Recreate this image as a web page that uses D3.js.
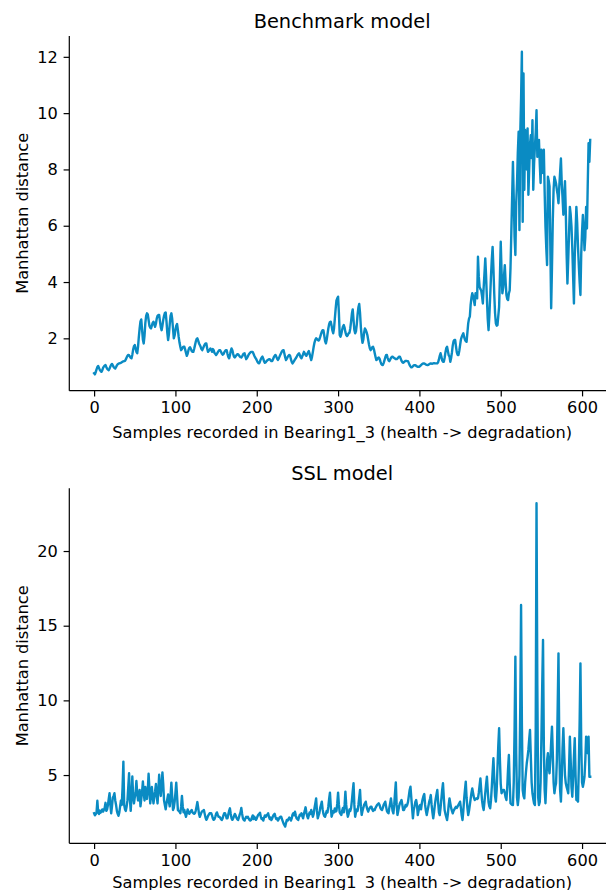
<!DOCTYPE html>
<html>
<head>
<meta charset="utf-8">
<script src="https://cdn.jsdelivr.net/npm/d3@7"></script>
<style>
  html, body { margin: 0; padding: 0; background: #fff; }
  svg { display: block; }
  text { font-family: "DejaVu Sans", sans-serif; fill: #000; }
</style>
</head>
<body>
<svg id="chart" width="606" height="890"></svg>
<script>
// ---------- data ----------
const titles = ["Benchmark model", "SSL model"];
const xLabel = "Samples recorded in Bearing1_3 (health -> degradation)";
const yLabel = "Manhattan distance";
const xTicks = [0, 100, 200, 300, 400, 500, 600];
const benchmarkYTicks = [2, 4, 6, 8, 10, 12];
const sslYTicks = [5, 10, 15, 20];

const benchmarkValues = [
0.76,0.72,0.80,0.90,0.98,1.02,0.95,0.88,0.84,0.81,
0.86,0.95,1.00,1.03,1.05,0.98,0.92,0.89,0.87,0.93,
1.00,1.06,1.09,1.04,0.98,0.95,0.93,0.98,1.04,1.08,
1.10,1.11,1.12,1.13,1.15,1.17,1.18,1.19,1.20,1.25,
1.32,1.38,1.41,1.40,1.35,1.31,1.29,1.42,1.60,1.72,
1.76,1.65,1.52,1.47,1.70,2.05,2.35,2.60,2.67,2.30,
1.95,1.82,2.10,2.55,2.80,2.89,2.85,2.65,2.45,2.38,
2.35,2.45,2.55,2.59,2.50,2.41,2.52,2.70,2.80,2.83,
2.83,2.60,2.40,2.29,2.45,2.65,2.80,2.90,2.92,2.60,
2.20,1.94,2.15,2.50,2.80,2.89,2.70,2.35,2.00,2.10,
2.30,2.45,2.51,2.30,2.05,1.85,1.70,1.58,1.62,1.68,
1.70,1.70,1.60,1.48,1.38,1.45,1.58,1.66,1.68,1.62,
1.55,1.52,1.52,1.62,1.75,1.88,1.97,2.00,1.92,1.82,
1.76,1.70,1.62,1.58,1.65,1.72,1.78,1.82,1.82,1.65,
1.52,1.55,1.60,1.64,1.60,1.52,1.62,1.58,1.48,1.45,
1.41,1.45,1.50,1.55,1.58,1.58,1.52,1.46,1.42,1.44,
1.50,1.55,1.58,1.58,1.45,1.34,1.29,1.40,1.55,1.64,
1.58,1.45,1.35,1.32,1.36,1.40,1.44,1.44,1.40,1.36,
1.33,1.32,1.36,1.42,1.46,1.47,1.36,1.26,1.30,1.36,
1.42,1.46,1.49,1.52,1.52,1.52,1.45,1.38,1.32,1.28,
1.22,1.16,1.12,1.11,1.18,1.26,1.32,1.35,1.28,1.18,
1.13,1.15,1.19,1.22,1.24,1.26,1.26,1.22,1.19,1.19,
1.26,1.33,1.38,1.41,1.35,1.28,1.23,1.28,1.35,1.42,
1.48,1.54,1.57,1.58,1.45,1.32,1.23,1.28,1.34,1.38,
1.41,1.38,1.26,1.16,1.11,1.15,1.20,1.25,1.29,1.34,
1.40,1.44,1.47,1.40,1.33,1.29,1.36,1.44,1.52,1.47,
1.41,1.38,1.44,1.50,1.55,1.45,1.32,1.23,1.35,1.52,
1.70,1.85,1.95,2.00,1.98,1.94,1.92,1.96,2.05,2.15,
2.24,2.29,2.28,2.10,1.90,1.82,1.95,2.15,2.35,2.50,
2.58,2.59,2.45,2.28,2.18,2.35,2.70,3.05,3.35,3.42,
3.48,2.90,2.12,2.06,2.15,2.30,2.42,2.47,2.38,2.22,
2.12,2.08,2.12,2.18,2.20,2.35,2.60,2.88,3.03,2.65,
2.30,2.18,2.25,2.50,2.85,3.10,3.22,2.90,2.40,2.05,
1.84,1.95,2.20,2.35,2.30,2.22,2.12,1.95,1.78,1.65,
1.58,1.62,1.68,1.70,1.62,1.48,1.35,1.23,1.25,1.30,
1.32,1.28,1.18,1.10,1.06,1.05,1.12,1.22,1.32,1.40,
1.41,1.30,1.22,1.19,1.24,1.30,1.34,1.35,1.32,1.30,
1.28,1.26,1.26,1.28,1.32,1.35,1.35,1.28,1.20,1.15,
1.13,1.15,1.18,1.20,1.20,1.19,1.19,1.12,1.05,1.00,
0.97,0.98,1.01,1.04,1.05,1.05,1.02,1.00,0.99,0.99,
0.99,1.02,1.05,1.08,1.10,1.11,1.11,1.09,1.07,1.06,
1.05,1.06,1.08,1.10,1.11,1.10,1.10,1.11,1.12,1.11,
1.11,1.11,1.11,1.15,1.25,1.38,1.47,1.35,1.22,1.17,
1.17,1.30,1.50,1.65,1.70,1.55,1.40,1.35,1.17,1.30,
1.50,1.75,1.90,1.94,1.94,1.70,1.50,1.41,1.41,1.55,
1.75,1.95,2.05,2.12,2.18,2.05,1.95,1.90,1.88,2.20,
2.53,2.70,2.77,3.20,3.45,3.60,3.50,3.35,3.18,3.60,
3.50,3.42,4.90,4.20,3.83,3.75,3.70,3.50,3.24,3.80,
4.31,4.84,4.20,3.40,2.70,2.29,2.80,3.48,4.20,4.80,
5.25,4.50,3.60,2.90,2.53,2.45,2.47,2.80,3.12,4.20,
5.43,4.40,3.60,3.80,4.20,4.60,4.00,3.54,3.40,3.36,
3.60,3.70,4.50,5.73,7.00,8.27,7.00,5.60,4.96,6.80,
7.50,8.60,9.34,5.85,9.28,10.50,12.18,6.14,11.41,7.28,
9.40,8.45,8.00,9.46,7.10,8.00,8.90,9.22,8.40,9.75,
7.28,8.20,8.80,9.30,10.10,8.45,8.70,9.05,8.20,7.52,
8.70,8.20,7.87,8.70,7.20,5.97,5.20,4.60,7.74,7.60,
7.40,5.20,3.07,4.50,6.20,7.30,7.74,7.63,7.50,7.28,
7.10,6.80,7.40,7.90,8.39,7.52,7.00,6.39,7.00,7.58,
6.50,5.00,3.95,4.80,5.73,6.67,6.40,5.97,5.20,4.20,
3.24,4.90,5.80,6.67,6.10,5.25,4.60,4.00,3.54,5.02,
5.80,6.38,5.90,5.13,5.60,6.67,5.90,7.50,8.93,8.27,
9.05
];

const sslValues = [
2.44,2.30,2.38,2.50,3.28,2.50,2.40,2.62,2.48,2.58,
2.70,2.55,2.66,2.80,3.14,2.60,2.70,3.00,3.40,3.78,
3.00,2.44,2.90,3.50,3.60,3.78,3.30,3.00,2.60,2.40,
2.27,2.50,2.90,3.30,3.00,4.20,5.90,3.00,2.70,2.60,
2.90,3.30,4.20,5.12,3.40,2.60,3.60,4.90,3.60,3.10,
3.50,3.80,4.60,3.80,3.30,3.60,4.00,2.90,3.40,3.90,
4.57,3.80,3.30,4.20,3.70,3.40,4.00,5.09,4.10,3.10,
3.60,4.20,3.60,3.10,3.50,3.90,4.40,3.60,3.10,4.00,
5.02,4.20,3.60,4.30,5.18,4.40,3.30,3.00,2.70,3.10,
3.40,3.70,3.20,2.90,3.60,4.49,3.60,2.66,2.80,3.20,
3.80,4.49,3.60,2.66,2.60,2.55,2.44,2.90,3.60,2.90,
2.50,2.66,2.40,2.20,2.45,2.70,2.55,2.40,2.50,2.58,
2.66,2.50,2.44,2.40,2.45,2.62,2.90,3.19,2.80,2.40,
2.20,2.35,2.50,2.58,2.62,2.66,2.40,2.15,2.00,2.10,
2.25,2.35,2.44,2.44,2.44,2.30,2.10,2.00,2.05,2.20,
2.40,2.50,2.35,2.21,2.21,2.15,2.05,1.99,2.10,2.30,
2.44,2.44,2.30,2.10,2.10,2.35,2.60,2.77,2.40,2.10,
2.00,2.10,2.25,2.40,2.30,2.15,2.05,1.99,2.15,2.35,
2.50,2.80,2.40,2.10,2.00,1.95,2.10,2.20,2.15,2.21,
2.10,2.00,1.95,1.99,2.15,2.30,2.05,2.21,2.10,2.00,
2.10,2.25,2.35,2.40,2.48,2.20,2.05,2.10,1.95,2.15,
2.30,2.20,2.30,2.35,2.44,2.20,2.05,2.15,1.99,2.10,
2.25,2.35,2.40,2.20,2.05,2.10,1.95,2.05,2.15,2.21,
2.21,2.05,1.90,1.75,1.65,1.55,1.80,2.00,1.95,2.05,
2.15,2.10,1.95,2.10,2.35,2.45,2.30,2.55,2.30,2.10,
2.05,1.99,2.20,2.35,2.30,2.44,2.25,2.10,2.40,2.60,
2.84,2.50,2.25,2.10,2.30,2.50,2.40,2.66,2.45,2.21,
2.40,2.80,3.10,3.44,2.60,2.10,2.30,2.45,2.80,3.00,
3.22,2.70,2.40,2.25,2.21,2.40,2.60,2.50,2.90,3.40,
3.82,2.90,2.21,2.40,2.60,2.50,2.77,2.55,2.60,3.10,
3.82,3.00,2.50,2.40,2.33,2.60,2.80,2.50,3.00,3.89,
3.00,2.50,2.21,2.40,2.70,2.60,2.80,3.30,3.90,4.45,
3.00,2.21,2.50,2.70,2.60,3.00,3.50,4.00,2.90,2.33,
2.60,2.80,3.00,3.10,3.22,2.90,2.70,2.55,2.70,2.80,
2.88,2.88,2.70,2.60,2.70,2.66,2.80,2.90,3.00,3.05,
3.11,3.00,2.80,2.70,2.66,2.80,3.00,3.10,3.22,2.90,
2.60,2.50,2.44,2.80,3.10,3.44,3.00,2.60,2.44,3.00,
3.80,4.51,3.00,2.33,2.60,2.90,3.10,3.20,3.33,3.00,
2.66,2.66,2.80,3.00,2.90,3.00,3.20,3.60,4.00,4.22,
3.50,2.80,2.10,2.66,2.90,3.20,3.33,3.00,2.32,2.60,
2.90,3.00,2.70,3.11,3.40,3.60,3.73,3.00,2.60,2.32,
2.60,2.90,3.20,3.40,3.66,3.00,2.50,2.10,2.50,3.00,
3.40,3.70,4.00,3.20,2.50,2.32,2.80,3.40,4.00,4.45,
3.50,2.66,2.40,2.20,1.99,2.40,3.00,3.44,3.10,2.80,
2.60,2.44,2.60,2.70,2.80,2.88,2.80,2.90,3.00,3.10,
3.22,2.80,2.30,1.99,2.60,3.40,4.00,4.56,3.50,2.80,
2.32,2.60,3.00,3.40,3.80,4.11,3.80,3.50,3.33,3.40,
3.44,3.40,3.44,3.80,4.30,4.78,4.00,3.30,2.90,2.66,
3.20,3.80,4.40,4.89,4.00,3.20,2.90,2.77,3.30,4.20,
5.20,6.12,4.80,3.60,3.22,4.00,5.50,7.00,8.13,6.00,
4.40,3.78,3.90,4.00,4.00,3.80,3.50,3.33,4.20,5.40,
6.34,4.50,3.11,3.05,3.00,2.99,4.50,8.00,12.93,6.50,
3.50,2.99,3.50,5.00,9.50,16.39,8.50,4.00,3.60,3.44,
4.50,5.20,5.79,6.20,6.68,7.40,8.02,6.20,4.50,3.78,
3.40,3.10,2.99,8.00,23.20,11.00,3.50,2.99,3.20,4.50,
7.50,11.00,14.05,7.00,4.00,3.11,4.50,6.00,6.46,5.50,
5.12,6.00,7.20,8.24,6.50,4.50,3.78,4.20,4.45,6.00,
9.50,13.15,7.00,4.00,3.22,4.80,6.80,8.13,6.50,5.00,
4.45,4.20,4.00,3.78,5.50,7.57,6.00,4.20,3.55,4.80,
6.20,7.46,5.00,3.33,3.30,3.22,5.50,8.50,12.48,7.00,
4.50,4.22,4.50,4.89,6.00,7.57,7.00,6.46,7.57,4.89,
4.89
];

// ---------- drawing ----------
const svg = d3.select("#chart");
const lineColor = "#0a8bc3";
const fontSize = 16.2;
const titleSize = 19.4;

const panels = [
  { title: titles[0], values: benchmarkValues, yTicks: benchmarkYTicks,
    yDomain: [0.14, 12.74], top: 36, bottom: 390.7, labelY: 437.5 },
  { title: titles[1], values: sslValues, yTicks: sslYTicks,
    yDomain: [0.43, 24.2], top: 488.3, bottom: 843.3, labelY: 888 }
];

const left = 69.3, right = 615;

panels.forEach(p => {
  const n = p.values.length;
  const pad = 0.05 * (n - 1);
  const x = d3.scaleLinear().domain([-pad, (n - 1) + pad]).range([left, right]);
  const y = d3.scaleLinear().domain(p.yDomain).range([p.bottom, p.top]);

  const g = svg.append("g");

  // line
  const line = d3.line().x((d, i) => x(i)).y(d => y(d));
  g.append("path")
    .datum(p.values)
    .attr("fill", "none")
    .attr("stroke", lineColor)
    .attr("stroke-width", 2.4)
    .attr("stroke-linejoin", "round")
    .attr("stroke-linecap", "square")
    .attr("d", line);

  // x axis
  const xAxis = d3.axisBottom(x).tickValues(xTicks).tickSize(5.7).tickPadding(5.2).tickFormat(d3.format("d"));
  const xg = g.append("g").attr("transform", `translate(0,${p.bottom})`).call(xAxis);
  xg.selectAll(".tick line").attr("stroke-width", 1.2);
  xg.selectAll("text").attr("font-size", fontSize).attr("font-family", "DejaVu Sans");

  // y axis
  const yAxis = d3.axisLeft(y).tickValues(p.yTicks).tickSize(5.7).tickPadding(5.7).tickFormat(d3.format("d"));
  const yg = g.append("g").attr("transform", `translate(${left},0)`).call(yAxis);
  yg.selectAll(".tick line").attr("stroke-width", 1.2);
  yg.selectAll("text").attr("font-size", fontSize).attr("font-family", "DejaVu Sans");

  // matplotlib-style spines
  xg.select(".domain").attr("d", `M${left},0H${right}`).attr("stroke-width", 1.2);
  yg.select(".domain").attr("d", `M0,${p.bottom}V${p.top}`).attr("stroke-width", 1.2);

  // title
  g.append("text")
    .attr("x", (left + right) / 2)
    .attr("y", p.top - 8.5)
    .attr("text-anchor", "middle")
    .attr("font-size", titleSize)
    .text(p.title);

  // x label
  g.append("text")
    .attr("x", (left + right) / 2)
    .attr("y", p.labelY)
    .attr("text-anchor", "middle")
    .attr("font-size", fontSize)
    .text(xLabel);

  // y label
  g.append("text")
    .attr("transform", `translate(28,${(p.top + p.bottom) / 2}) rotate(-90)`)
    .attr("text-anchor", "middle")
    .attr("font-size", fontSize)
    .text(yLabel);
});
</script>
</body>
</html>
